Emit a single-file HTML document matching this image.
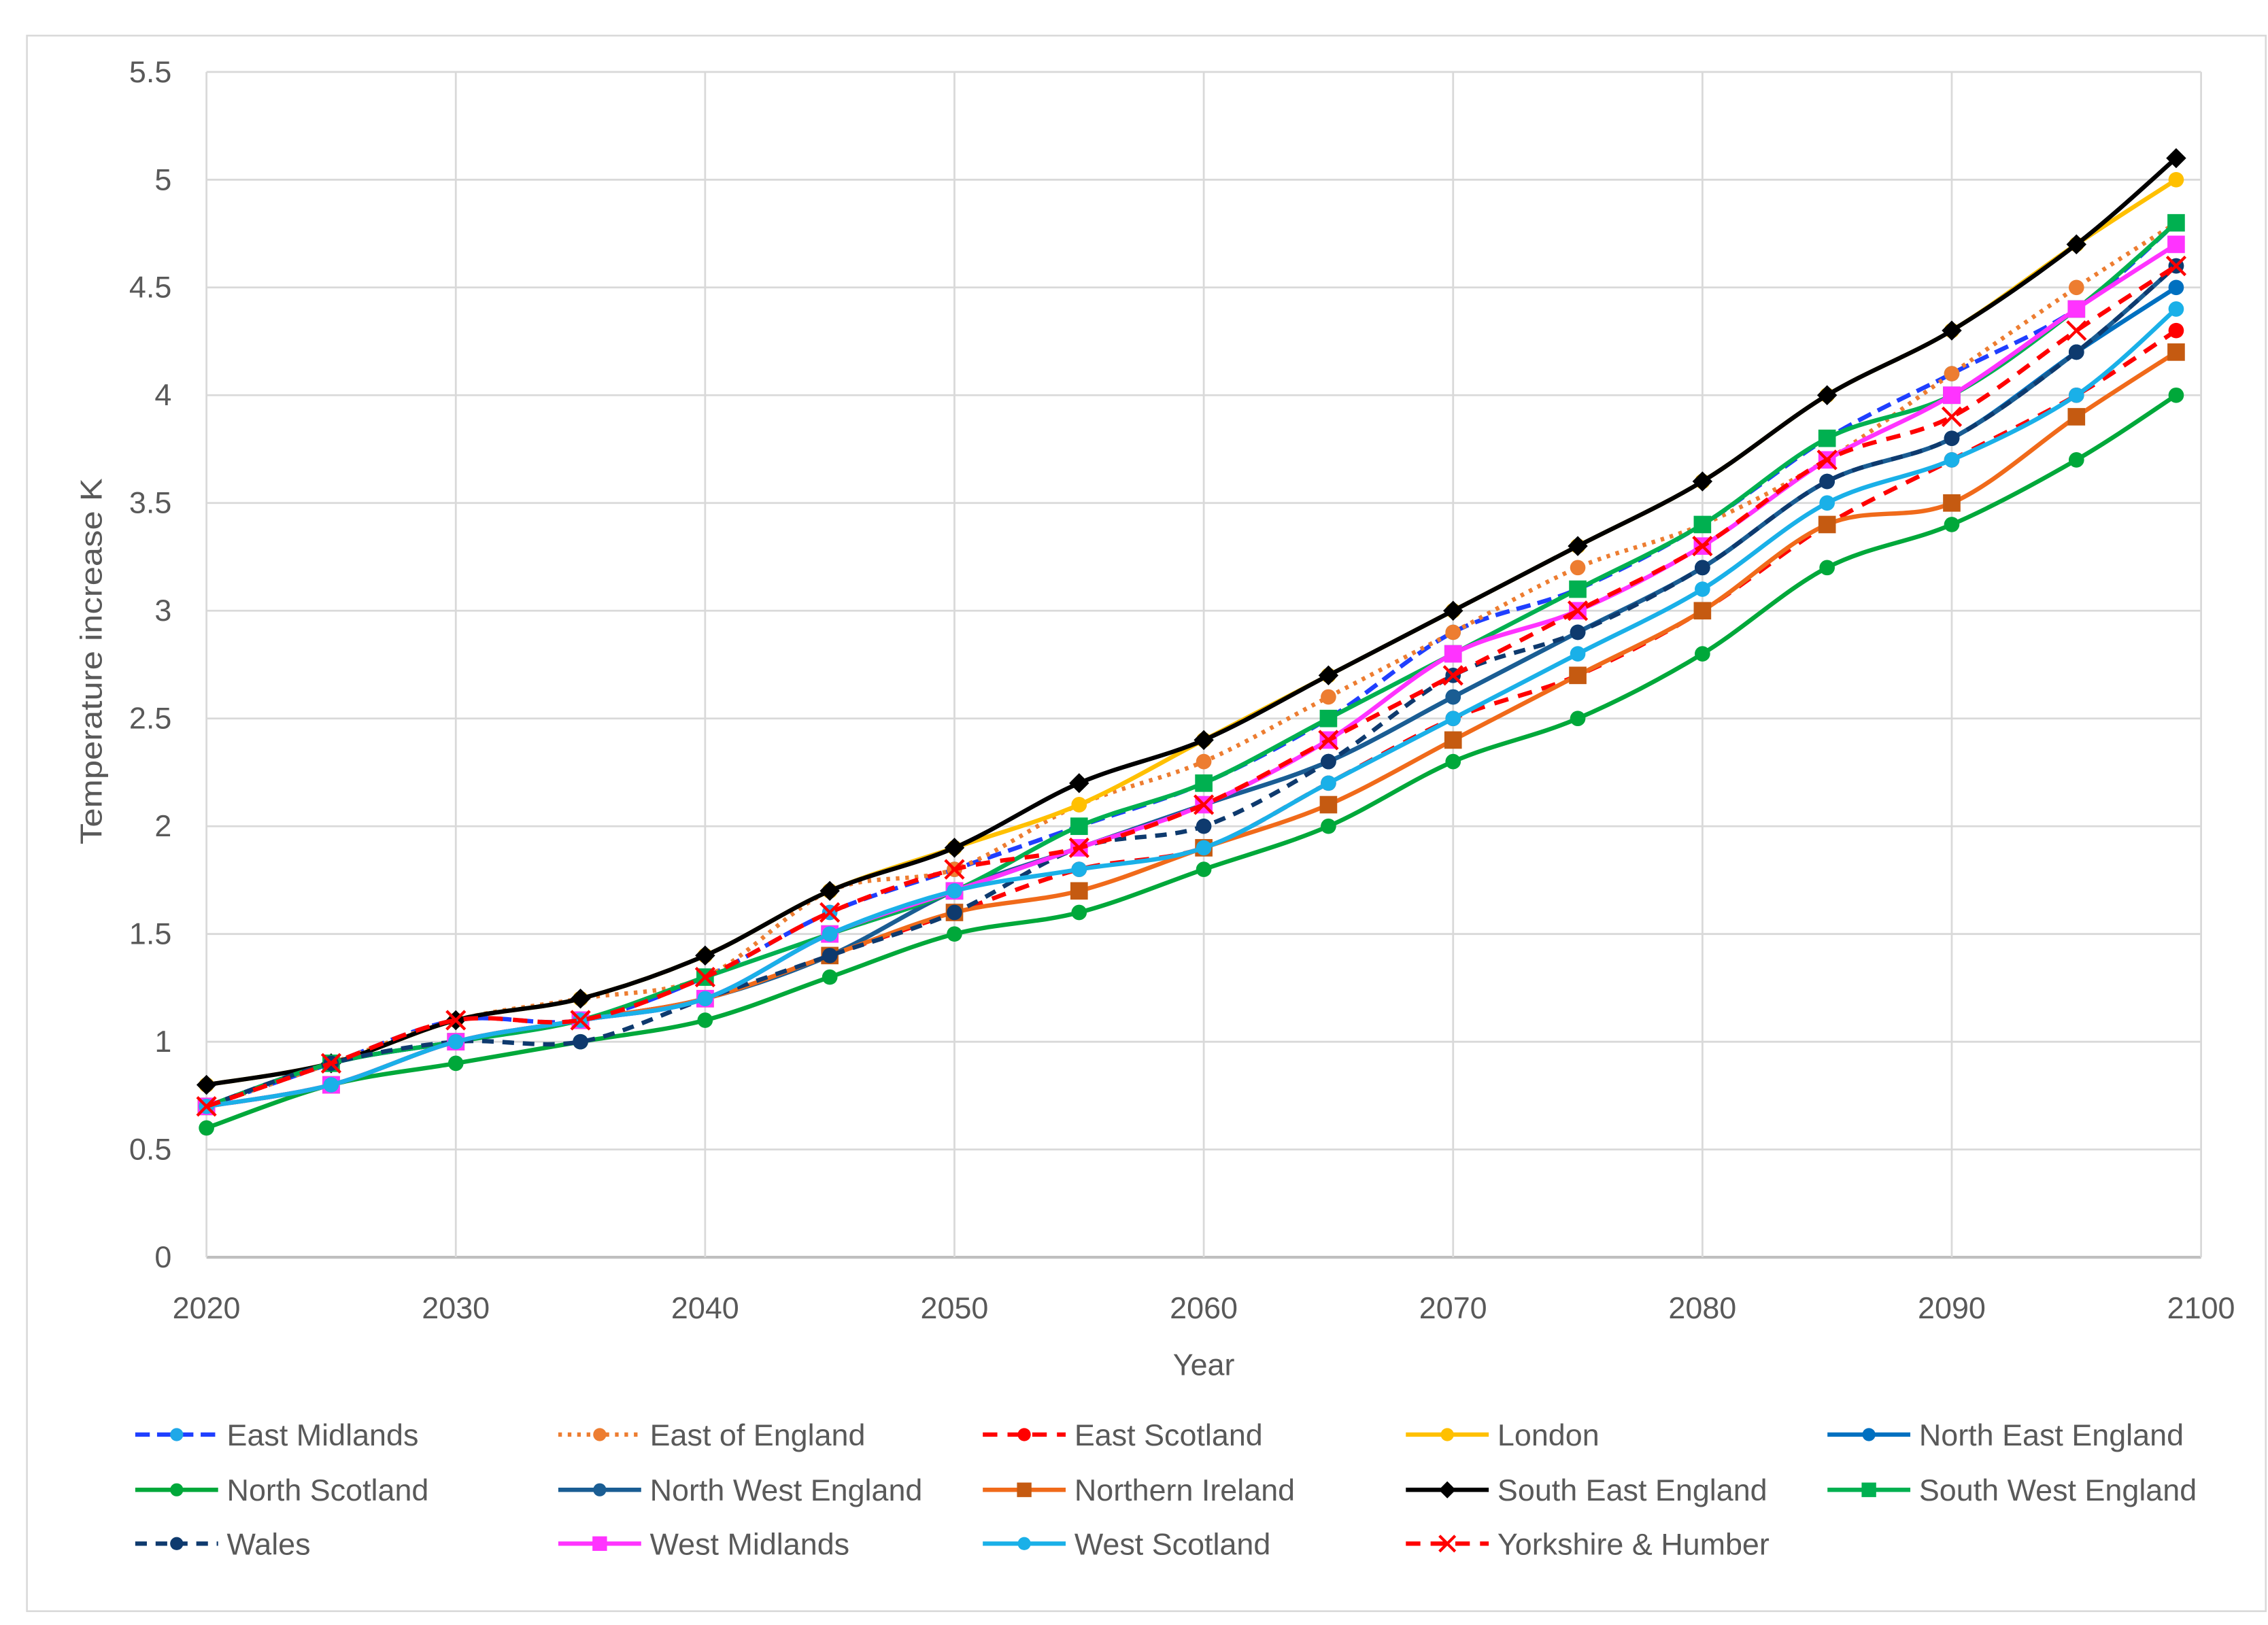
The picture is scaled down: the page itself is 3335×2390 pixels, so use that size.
<!DOCTYPE html>
<html><head><meta charset="utf-8"><style>
html,body{margin:0;padding:0;background:#fff;}
svg{display:block;}
text{font-family:"Liberation Sans",sans-serif;fill:#595959;}
</style></head><body>
<svg id="chart" width="3335" height="2390" viewBox="0 0 1560 1118" xmlns="http://www.w3.org/2000/svg">
<rect x="18.5" y="24.5" width="1540" height="1084" fill="#fff" stroke="#d9d9d9" stroke-width="1.2"/>
<g id="grid"></g>
<g id="axes"></g>
<g id="series"></g>
<g id="legend"></g>
<text transform="translate(70,455) rotate(-90)" text-anchor="middle" font-size="21" textLength="252" lengthAdjust="spacingAndGlyphs">Temperature increase K</text>
<text x="828" y="946" text-anchor="middle" font-size="21">Year</text>
</svg>
<script>
const years = [2020,2025,2030,2035,2040,2045,2050,2055,2060,2065,2070,2075,2080,2085,2090,2095,2099];
const yTicks = [0,0.5,1,1.5,2,2.5,3,3.5,4,4.5,5,5.5];
const yTickLabels = ["0","0.5","1","1.5","2","2.5","3","3.5","4","4.5","5","5.5"];
const xTicks = [2020,2030,2040,2050,2060,2070,2080,2090,2100];
const seriesNames = ["East Midlands","East of England","East Scotland","London","North East England","North Scotland","North West England","Northern Ireland","South East England","South West England","Wales","West Midlands","West Scotland","Yorkshire & Humber"];
const eastMidlands   = [0.7,0.9,1.1,1.1,1.3,1.6,1.8,2.0,2.2,2.5,2.9,3.1,3.4,3.8,4.1,4.4,4.8];
const eastOfEngland  = [0.7,0.9,1.1,1.2,1.3,1.7,1.8,2.1,2.3,2.6,2.9,3.2,3.4,3.7,4.1,4.5,4.8];
const eastScotland   = [0.7,0.8,1.0,1.1,1.2,1.4,1.6,1.8,1.9,2.2,2.5,2.7,3.0,3.4,3.7,4.0,4.3];
const london         = [0.8,0.9,1.1,1.2,1.4,1.7,1.9,2.1,2.4,2.7,3.0,3.3,3.6,4.0,4.3,4.7,5.0];
const northEastEng   = [0.7,0.9,1.0,1.1,1.2,1.5,1.7,1.9,2.1,2.3,2.6,2.9,3.2,3.6,3.8,4.2,4.5];
const northScotland  = [0.6,0.8,0.9,1.0,1.1,1.3,1.5,1.6,1.8,2.0,2.3,2.5,2.8,3.2,3.4,3.7,4.0];
const northWestEng   = [0.7,0.9,1.0,1.1,1.2,1.4,1.7,1.9,2.1,2.3,2.6,2.9,3.2,3.6,3.8,4.2,4.6];
const northernIreland= [0.7,0.8,1.0,1.1,1.2,1.4,1.6,1.7,1.9,2.1,2.4,2.7,3.0,3.4,3.5,3.9,4.2];
const southEastEng   = [0.8,0.9,1.1,1.2,1.4,1.7,1.9,2.2,2.4,2.7,3.0,3.3,3.6,4.0,4.3,4.7,5.1];
const southWestEng   = [0.7,0.9,1.0,1.1,1.3,1.5,1.7,2.0,2.2,2.5,2.8,3.1,3.4,3.8,4.0,4.4,4.8];
const wales          = [0.7,0.9,1.0,1.0,1.2,1.4,1.6,1.9,2.0,2.3,2.7,2.9,3.2,3.6,3.8,4.2,4.6];
const westMidlands   = [0.7,0.8,1.0,1.1,1.2,1.5,1.7,1.9,2.1,2.4,2.8,3.0,3.3,3.7,4.0,4.4,4.7];
const westScotland   = [0.7,0.8,1.0,1.1,1.2,1.5,1.7,1.8,1.9,2.2,2.5,2.8,3.1,3.5,3.7,4.0,4.4];
const yorkshire      = [0.7,0.9,1.1,1.1,1.3,1.6,1.8,1.9,2.1,2.4,2.7,3.0,3.3,3.7,3.9,4.3,4.6];
const seriesValues = [eastMidlands,eastOfEngland,eastScotland,london,northEastEng,northScotland,northWestEng,northernIreland,southEastEng,southWestEng,wales,westMidlands,westScotland,yorkshire];

const styles = [
 {line:"#1f3fff",marker:"#1fa8e8",dash:"10 5",m:"circle"},
 {line:"#ed7d31",marker:"#ed7d31",dash:"2.5 4",m:"circle"},
 {line:"#ff0000",marker:"#ff0000",dash:"10 7",m:"circle"},
 {line:"#ffc000",marker:"#ffc000",dash:"",m:"circle"},
 {line:"#0070c0",marker:"#0070c0",dash:"",m:"circle"},
 {line:"#00a83a",marker:"#00a83a",dash:"",m:"circle"},
 {line:"#1a5d93",marker:"#1a5d93",dash:"",m:"circle"},
 {line:"#f06a1a",marker:"#c55a11",dash:"",m:"square"},
 {line:"#000000",marker:"#000000",dash:"",m:"diamond"},
 {line:"#00b050",marker:"#00b050",dash:"",m:"square"},
 {line:"#0e3a6e",marker:"#0e3a6e",dash:"8 6",m:"circle"},
 {line:"#ff33ff",marker:"#ff33ff",dash:"",m:"square"},
 {line:"#1ab0e8",marker:"#1ab0e8",dash:"",m:"circle"},
 {line:"#ff0000",marker:"#ff0000",dash:"10 7",m:"x"}
];
const NS="http://www.w3.org/2000/svg";
const PL=142,PR=1514,PT=49.5,PB=865;
function x(yr){return PL+(yr-2020)/80*(PR-PL);}
function y(v){return PB-v/5.5*(PB-PT);}
function mk(tag,attrs,parent){const e=document.createElementNS(NS,tag);for(const k in attrs)e.setAttribute(k,attrs[k]);parent.appendChild(e);return e;}
const grid=document.getElementById('grid'),axes=document.getElementById('axes'),sg=document.getElementById('series'),lg=document.getElementById('legend');
yTicks.forEach((t,i)=>{
  const l=mk('line',{x1:PL,x2:PR,y1:y(t),y2:y(t),stroke:t===0?'#bfbfbf':'#d9d9d9','stroke-width':t===0?2:1.3},grid);
  
  
  const tx=mk('text',{x:118,y:y(t)+7,'text-anchor':'end','font-size':21},axes);
  tx.textContent=yTickLabels[i];
  
  
});
xTicks.forEach(t=>{
  const l=mk('line',{x1:x(t),x2:x(t),y1:PT,y2:PB,stroke:'#d9d9d9','stroke-width':1.3},grid);
  
  
  const tx=mk('text',{x:x(t),y:907,'text-anchor':'middle','font-size':21},axes);
  tx.textContent=String(t);
  
  
});
function smooth(pts){
  let d=`M${pts[0][0]},${pts[0][1]}`;
  for(let i=0;i<pts.length-1;i++){
    const p0=pts[i-1]||pts[i],p1=pts[i],p2=pts[i+1],p3=pts[i+2]||p2;
    const c1=[p1[0]+(p2[0]-p0[0])/6,p1[1]+(p2[1]-p0[1])/6];
    const c2=[p2[0]-(p3[0]-p1[0])/6,p2[1]-(p3[1]-p1[1])/6];
    d+=` C${c1[0]},${c1[1]} ${c2[0]},${c2[1]} ${p2[0]},${p2[1]}`;
  }
  return d;
}
function marker(type,cx,cy,col,parent,r){
  let e;
  if(type==='circle') e=mk('circle',{cx,cy,r,fill:col},parent);
  else if(type==='square') e=mk('rect',{x:cx-r,y:cy-r,width:2*r,height:2*r,fill:col},parent);
  else if(type==='diamond') e=mk('path',{d:`M${cx},${cy-r*1.3}L${cx+r*1.3},${cy}L${cx},${cy+r*1.3}L${cx-r*1.3},${cy}Z`,fill:col},parent);
  else e=mk('path',{d:`M${cx-r*1.2},${cy-r*1.2}L${cx+r*1.2},${cy+r*1.2}M${cx+r*1.2},${cy-r*1.2}L${cx-r*1.2},${cy+r*1.2}`,stroke:col,'stroke-width':2,fill:'none'},parent);
  return e;
}
seriesValues.forEach((vals,si)=>{
  const st=styles[si];
  const g=mk('g',{},sg);
  
  
  const pts=vals.map((v,i)=>[x(years[i]),y(v)]);
  const p=mk('path',{d:smooth(pts),fill:'none',stroke:st.line,'stroke-width':3,'stroke-dasharray':st.dash,'stroke-linecap':st.dash?'butt':'round','stroke-linejoin':'round'},g);
  
  
  pts.forEach(pt=>{
    const m=marker(st.m,pt[0],pt[1],st.marker,g,st.m==='square'?6:5.3);
    
    
  });
});
const colX=[93,384,676,967,1257],rowY=[987,1025,1062];
seriesNames.forEach((n,i)=>{
  const st=styles[i];
  const lx=colX[i%5],ly=rowY[Math.floor(i/5)];
  const g=mk('g',{},lg);
  
  
  mk('line',{x1:lx,x2:lx+57,y1:ly,y2:ly,stroke:st.line,'stroke-width':3,'stroke-dasharray':st.dash},g);
  marker(st.m,lx+28.5,ly,st.marker,g,st.m==='square'?5:4.5);
  const t=mk('text',{x:lx+63,y:ly+7.5,'font-size':21},g);
  t.textContent=n;
  
  
});
</script>
</body></html>
